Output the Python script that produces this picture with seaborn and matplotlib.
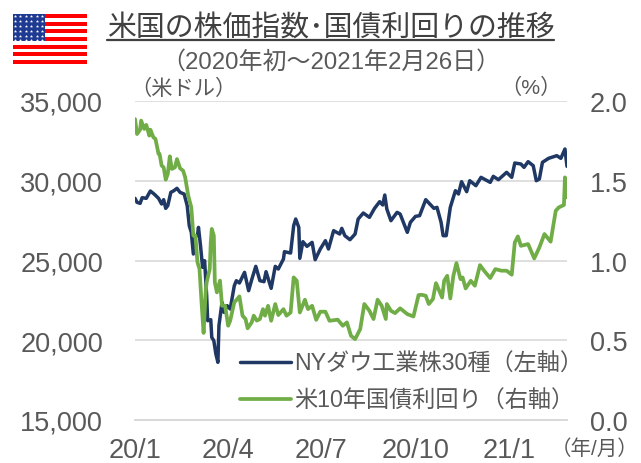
import numpy as np
import pandas as pd
import matplotlib.pyplot as plt
import seaborn as sns

W, H = 641, 464

# days since 2020-01-01
dow_days = [0, 2, 5, 7, 11, 15, 19, 23, 26, 28, 30, 32, 35, 38, 41, 44, 48, 51, 53, 55, 57, 59, 61, 62, 64, 66, 68, 70, 71, 74, 75, 77, 79, 81, 82, 85, 87, 90, 93, 97, 99, 102, 107, 111, 114, 118, 122, 126, 128, 133,
            137, 140, 145, 146, 152, 155, 157, 160, 161, 164, 168, 173, 176, 181, 186, 189, 194, 200, 202, 205, 210, 215, 218, 223, 229, 234, 239, 242, 244, 246, 250, 256, 259, 266, 269, 274, 278,
            284, 288, 292, 295, 299, 301, 304, 308, 313, 316, 319, 324, 327, 333, 338, 347, 350, 355, 363, 368, 371, 377, 380, 384, 389, 392, 395, 398, 404, 412, 416, 420, 422]
dow = [28897, 28646, 28583, 28939, 28897, 29357, 29148, 28897, 28541, 28813, 28270, 28437, 29273, 29378, 29524, 29273, 29168, 28437, 27183, 26765, 25406, 26556, 26556, 27078, 25929, 24571, 24988, 22794, 21226, 21289, 20181, 19972, 19136, 18614, 20913, 22376, 21749, 22167, 21958, 23421, 23734, 23588, 24257, 23107, 23797, 24633, 23734, 23672, 24299, 23254,
       24633, 24466, 25093, 25553, 25469, 27183, 27601, 27078, 25135, 26180, 25887, 26138, 25051, 25720, 26242, 25720, 26870, 26661, 27016, 26556, 26305, 26661, 27601, 27977, 27706, 28270, 28688, 28479, 29106, 28228, 27496, 28019, 27914, 26765, 27392, 27768, 27810,
       28813, 28542, 28270, 28333, 27392, 26556, 26556, 28333, 29378, 29168, 29942, 29315, 30004, 29691, 30213, 29900, 30276, 30067, 30527, 30213, 31112, 31050, 30840, 31196, 30945, 30004, 30109, 31154, 31405, 31572, 31405, 31990, 30903]

yield_days = [0, 2, 5, 6, 9, 11, 14, 15, 18, 20, 23, 24, 26, 28, 30, 32, 34, 36, 39, 41, 44, 47, 49, 52, 55, 57, 59, 61, 63, 65, 67, 69, 70, 73, 74, 75, 77, 78, 80, 83, 85, 88, 91, 93, 97, 100, 102, 105, 108, 110, 114, 116, 119, 122,
              125, 127, 130, 133, 137, 140, 145, 148, 152, 155, 158, 161, 166, 169, 173, 177, 181, 186, 190, 198, 203, 207, 211, 215, 220, 224, 229, 233, 237, 241, 245, 246, 250, 254, 259, 266, 272, 277,
              280, 284, 287, 291, 294, 300, 302, 305, 308, 311, 314, 318, 320, 323, 328, 332, 337, 341, 347, 352, 358, 363, 368, 371, 374, 377, 384, 390, 395, 400, 406, 411, 414, 419, 420, 422]
yield10 = [1.887, 1.793, 1.82, 1.877, 1.825, 1.85, 1.783, 1.82, 1.772, 1.762, 1.668, 1.668, 1.595, 1.584, 1.507, 1.542, 1.653, 1.574, 1.584, 1.636, 1.578, 1.563, 1.522, 1.407, 1.333, 1.156, 1.156, 0.989, 0.947, 0.738, 0.546, 0.8, 0.863, 0.947, 1.114, 1.198, 1.156, 0.863, 0.8, 0.874, 0.717, 0.717, 0.591, 0.623, 0.738, 0.759, 0.775, 0.654, 0.633, 0.575, 0.612, 0.654, 0.623, 0.633,
           0.695, 0.654, 0.716, 0.622, 0.727, 0.658, 0.695, 0.654, 0.674, 0.894, 0.873, 0.674, 0.754, 0.695, 0.716, 0.628, 0.679, 0.679, 0.622, 0.629, 0.591, 0.612, 0.528, 0.507, 0.57, 0.727, 0.685, 0.633, 0.754, 0.716, 0.633, 0.727, 0.685, 0.67, 0.7, 0.664, 0.649, 0.783,
           0.785, 0.779, 0.727, 0.758, 0.858, 0.768, 0.873, 0.904, 0.762, 0.904, 0.984, 0.883, 0.894, 0.825, 0.873, 0.842, 0.971, 0.936, 0.89, 0.946, 0.936, 0.936, 0.911, 1.113, 1.151, 1.092, 1.103, 1.013, 1.082, 1.166, 1.118, 1.312, 1.333, 1.348, 1.521, 1.396]

month_ticks = ["2020-01-01", "2020-04-01", "2020-07-01", "2020-10-01", "2021-01-01"]
month_labels = ["20/1", "20/4", "20/7", "20/10", "21/1"]
left_ticks = [15000, 20000, 25000, 30000, 35000]
right_ticks = [0.0, 0.5, 1.0, 1.5, 2.0]

start = pd.Timestamp("2020-01-01")
df_dow = pd.DataFrame({"date": start + pd.to_timedelta(dow_days, unit="D"), "value": dow})
df_yield = pd.DataFrame({"date": start + pd.to_timedelta(yield_days, unit="D"), "value": yield10})

sns.set_theme(style="white")
plt.rcParams["font.family"] = ["Liberation Sans", "Noto Sans CJK JP"]

GREY = "#595959"
GRID = "#d9d9d9"
NAVY = "#1f3864"
GREEN = "#70ad47"
TICK_SIZE = 19.5

fig = plt.figure(figsize=(W / 100, H / 100), dpi=100)
ax = fig.add_axes([135 / W, 1 - 421 / H, 432 / W, 319 / H])
ax2 = ax.twinx()

sns.lineplot(data=df_dow, x="date", y="value", ax=ax, color=NAVY, lw=2.5, label="NYダウ工業株30種（左軸）", legend=False)
sns.lineplot(data=df_yield, x="date", y="value", ax=ax2, color=GREEN, lw=2.7, label="米10年国債利回り（右軸）", legend=False)

ax.set_xlim(start, pd.Timestamp("2021-02-26"))
ax.set_ylim(15000, 35000)
ax2.set_ylim(0, 2)
ax.set_xlabel("")
ax.set_ylabel("")
ax2.set_ylabel("")

ax.set_xticks(pd.to_datetime(month_ticks))
ax.set_xticklabels(month_labels, fontsize=TICK_SIZE, color=GREY)
ax.tick_params(axis="x", length=5, width=1, color=GRID, pad=7)
ax.set_yticks(left_ticks)
ax.set_yticklabels([f"{t:,}" for t in left_ticks], fontsize=TICK_SIZE, color=GREY)
ax.tick_params(axis="y", length=0, pad=23)
ax2.set_yticks(right_ticks)
ax2.set_yticklabels([f"{t:.1f}" for t in right_ticks], fontsize=TICK_SIZE, color=GREY)
ax2.tick_params(axis="y", length=0, pad=16.5)

ax.grid(axis="y", color=GRID, lw=1.2)
ax.grid(axis="x", visible=False)
for a in (ax, ax2):
    for side in ["top", "left", "right"]:
        a.spines[side].set_visible(False)
    a.spines["bottom"].set_color(GRID)
    a.spines["bottom"].set_linewidth(1.2)

handles = ax.get_lines()[:1] + ax2.get_lines()[:1]
leg = ax2.legend(handles, [h.get_label() for h in handles], loc="lower left",
                 bbox_to_anchor=(240 / W, 1 - 413 / H), bbox_transform=fig.transFigure,
                 frameon=False, fontsize=16.7, labelcolor=GREY, handlelength=2.2,
                 handletextpad=0.15, labelspacing=0.62, borderpad=0, borderaxespad=0)

# title and notes
fig.text(331 / W, 1 - 28 / H, "米国の株価指数･国債利回りの推移", fontsize=20.8, color="#404040", ha="center", va="center")
fig.add_artist(plt.Line2D([107 / W, 554 / W], [1 - 41 / H, 1 - 41 / H], color="#404040", lw=1.6))
fig.text(331 / W, 1 - 62.5 / H, "（2020年初～2021年2月26日）", fontsize=17.3, color=GREY, ha="center", va="center")
fig.text(130 / W, 1 - 89 / H, "（米ドル）", fontsize=15.3, color=GREY, ha="left", va="center")
fig.text(500 / W, 1 - 88 / H, "（%）", fontsize=15.3, color=GREY, ha="left", va="center")
fig.text(551 / W, 1 - 449 / H, "（年/月）", fontsize=14.8, color=GREY, ha="left", va="center")

# flag
flag = fig.add_axes([13 / W, 1 - 65 / H, 74 / W, 50 / H])
flag.set_xlim(0, 74)
flag.set_ylim(13, 0)
flag.axis("off")
for i in range(13):
    flag.axhspan(i, i + 1, color="#ff0000" if i % 2 == 0 else "#ffffff", lw=0)
flag.axhspan(0, 7, xmin=0, xmax=32 / 74, color="#1f3a93", lw=0)
sx, sy = np.meshgrid(np.arange(2, 32, 5.4), np.arange(0.6, 7, 1.25))
flag.scatter(sx.ravel(), sy.ravel(), s=6, color="white", marker="*", lw=0)

fig.savefig("out.png", dpi=100)
